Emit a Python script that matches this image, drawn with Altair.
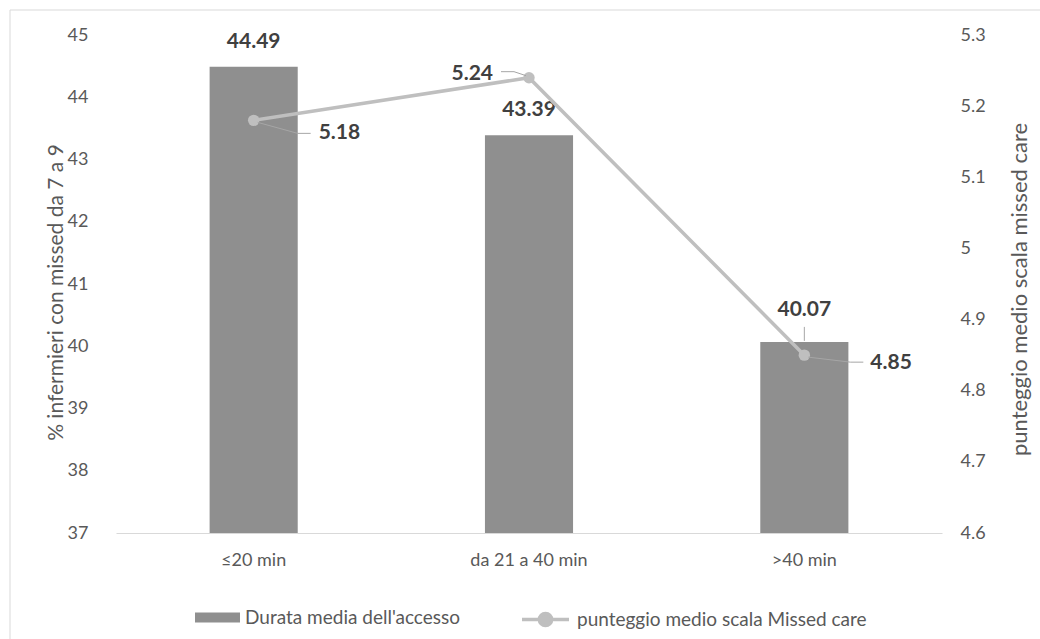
import altair as alt
import pandas as pd

categories = ["≤20 min", "da 21 a 40 min", ">40 min"]
pct_values = [44.49, 43.39, 40.07]
score_values = [5.18, 5.24, 4.85]
pct_ticks = [37, 38, 39, 40, 41, 42, 43, 44, 45]
score_ticks = [4.6, 4.7, 4.8, 4.9, 5.0, 5.1, 5.2, 5.3]
bar_series = "Durata media dell'accesso"
line_series = "punteggio medio scala Missed care"
left_title = "% infermieri con missed da  7 a 9"
right_title = "punteggio medio scala missed care"

df = pd.DataFrame({
    "cat": categories,
    "pct": pct_values,
    "score": score_values,
    "bar_s": [bar_series] * 3,
    "line_s": [line_series] * 3,
})

FONT = "Lato"
TXT = "#595959"
LBL = "#404040"
BAR = "#8f8f8f"
LINE = "#bfbfbf"
LEAD = "#a6a6a6"

base = alt.Chart(df)

x_enc = alt.X(
    "cat:N", sort=categories,
    scale=alt.Scale(paddingInner=0.68, paddingOuter=0.34),
    axis=alt.Axis(title=None, labelAngle=0, labelFont=FONT, labelFontSize=18,
                  labelColor=TXT, labelPadding=18, ticks=False,
                  domainColor="#d9d9d9", domainWidth=1.2, grid=False),
)

y_left = alt.Y(
    "pct:Q",
    scale=alt.Scale(domain=[37, 45], zero=False, nice=False),
    axis=alt.Axis(orient="left", values=pct_ticks, format="d", title=left_title,
                  grid=False, domain=False, ticks=False, labelFont=FONT,
                  labelFontSize=18, labelColor=TXT, labelPadding=28,
                  titleFont=FONT, titleFontSize=21, titleFontWeight="normal",
                  titleColor=TXT, titleAngle=270, titleX=-60, titleY=257,
                  titleAlign="center", titleBaseline="middle"),
)

y_right = alt.Y(
    "score:Q",
    scale=alt.Scale(domain=[4.6, 5.3], zero=False, nice=False),
    axis=alt.Axis(orient="right", values=score_ticks, format=".1~f",
                  title=right_title, grid=False, domain=False, ticks=False,
                  labelFont=FONT, labelFontSize=18, labelColor=TXT,
                  labelPadding=18, titleFont=FONT, titleFontSize=22,
                  titleFontWeight="normal", titleColor=TXT, titleAngle=270,
                  titleX=77, titleY=254, titleAlign="center",
                  titleBaseline="middle"),
)

frame = alt.Chart(pd.DataFrame({"a": [0]})).mark_rect(
    filled=False, stroke="#d9d9d9", strokeWidth=1
).encode(x=alt.value(-106), x2=alt.value(940), y=alt.value(-25), y2=alt.value(620))

bars = base.mark_bar().encode(
    x=x_enc,
    y=y_left,
    y2=alt.datum(37),
    color=alt.Color(
        "bar_s:N",
        scale=alt.Scale(range=[BAR]),
        legend=alt.Legend(orient="none", legendX=79, legendY=560, title=None,
                          symbolType="M-1,-0.22H1V0.22H-1Z", symbolSize=2025,
                          symbolStrokeWidth=0, labelFont=FONT, labelFontSize=19,
                          labelColor=TXT, labelOffset=5, labelLimit=0, padding=0),
    ),
)

def bar_label(i, dy):
    return base.transform_filter(alt.datum.cat == categories[i]).mark_text(
        font=FONT, fontSize=21, fontWeight="bold", color=LBL,
        baseline="middle", dy=dy,
    ).encode(x=alt.X("cat:N", sort=categories), y="pct:Q", text=alt.Text("pct:Q", format=".2f"))

bar_lead = base.transform_filter(alt.datum.cat == categories[2]).mark_rule(
    color=LEAD, strokeWidth=1, yOffset=-15, y2Offset=-1
).encode(x=alt.X("cat:N", sort=categories), y="pct:Q", y2="pct:Q")

bar_layer = alt.layer(frame, bars, bar_label(0, -25), bar_label(1, -25),
                      bar_label(2, -32), bar_lead)

line = base.mark_line(strokeWidth=3.5).encode(
    x=alt.X("cat:N", sort=categories),
    y=y_right,
    stroke=alt.Stroke(
        "line_s:N",
        scale=alt.Scale(range=[LINE]),
        legend=alt.Legend(orient="none", legendX=404, legendY=559, title=None,
                          symbolType="M-1,0H1M0.26,0A0.26,0.26,0,1,1,-0.26,0A0.26,0.26,0,1,1,0.26,0",
                          symbolSize=2209, symbolStrokeWidth=3.5,
                          symbolFillColor=LINE, labelFont=FONT,
                          labelFontSize=19, labelColor=TXT, labelOffset=6,
                          labelLimit=0, padding=0),
    ),
)
points = base.mark_circle(size=130, color=LINE, opacity=1).encode(
    x=alt.X("cat:N", sort=categories), y="score:Q"
)

def line_label(i, dx, dy, align):
    return base.transform_filter(alt.datum.cat == categories[i]).mark_text(
        font=FONT, fontSize=21, fontWeight="bold", color=LBL,
        baseline="middle", align=align, dx=dx, dy=dy,
    ).encode(x=alt.X("cat:N", sort=categories), y="score:Q",
             text=alt.Text("score:Q", format=".2f"))

def lead(i, xo, yo, x2o, y2o):
    return base.transform_filter(alt.datum.cat == categories[i]).mark_rule(
        color=LEAD, strokeWidth=1, xOffset=xo, yOffset=yo,
        x2Offset=x2o, y2Offset=y2o,
    ).encode(x=alt.X("cat:N", sort=categories), x2="cat:N",
             y="score:Q", y2="score:Q")

line_layer = alt.layer(
    line, points,
    lead(0, 4, 2, 44, 13), lead(0, 44, 13, 57, 13),
    lead(1, -28, -6, -15, -6), lead(1, -15, -6, -3, -2),
    lead(2, 4, 2, 46, 7), lead(2, 46, 7, 59, 7),
    line_label(0, 65, 13, "left"),
    line_label(1, -36, -4, "right"),
    line_label(2, 66, 8, "left"),
)

chart = alt.layer(bar_layer, line_layer).resolve_scale(
    y="independent", color="independent"
).properties(
    width=826, height=498,
    autosize=alt.AutoSizeParams(type="none"),
    padding={"left": 116, "top": 35, "right": 98, "bottom": 106},
    background="white",
).configure_view(stroke=None)

chart.save("out.html", embed_options={"renderer": "svg", "actions": False})
